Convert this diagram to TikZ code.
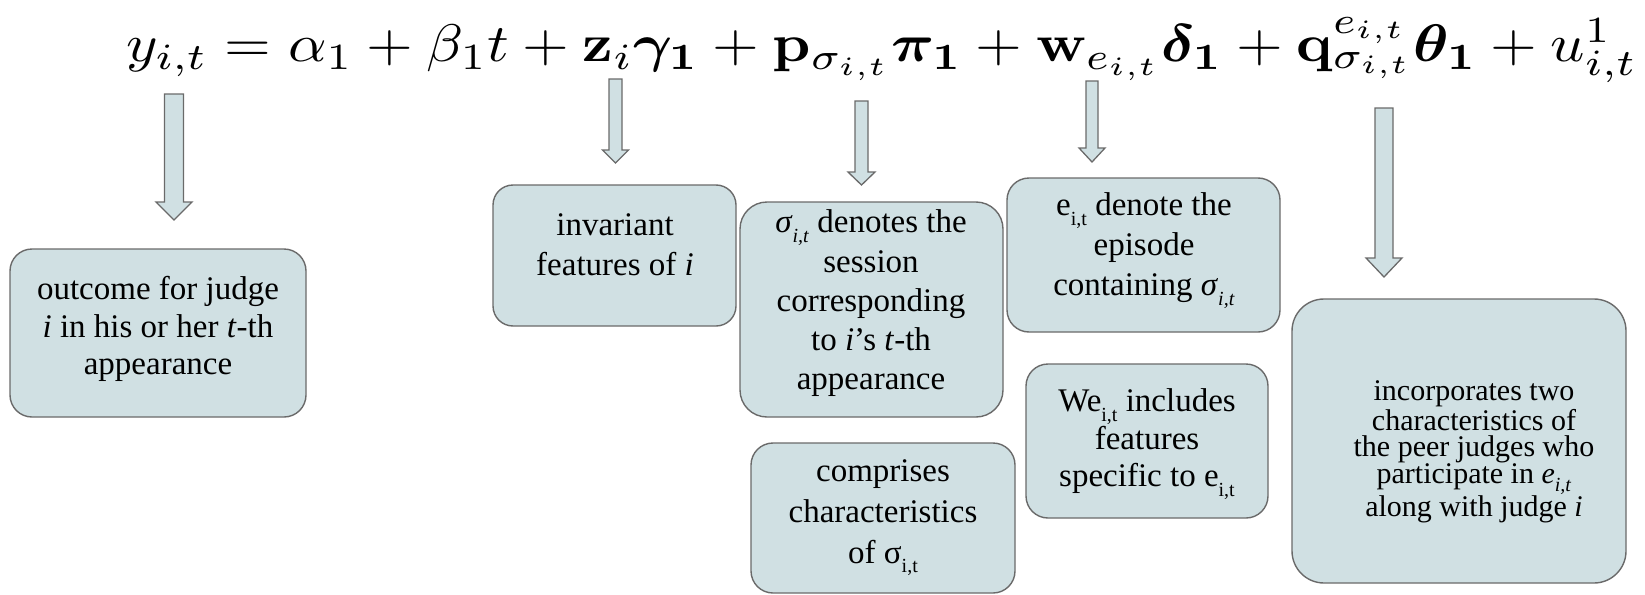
\documentclass[tikz,border=0pt]{standalone}
\usepackage{amsmath}
\usepackage[no-math]{fontspec}
\setmainfont{LiberationSerif}[Extension=.ttf, UprightFont=*-Regular, ItalicFont=*-Italic, BoldFont=*-Bold, BoldItalicFont=*-BoldItalic]
\definecolor{boxfill}{HTML}{D0E0E3}
\definecolor{boxline}{HTML}{6A6A6A}
% lowered subscript for running text
\newcommand\lowsub[1]{\raisebox{-0.28em}{\fontsize{20}{20}\selectfont #1}}
% downward block arrow: centre x, top, head base, tip, half shaft, half head
\newcommand\dnarrow[6]{%
  \draw[blockarrow] ({#1-#5},#2) -- ({#1+#5},#2) -- ({#1+#5},#3) -- ({#1+#6},#3)
    -- (#1,#4) -- ({#1-#6},#3) -- ({#1-#5},#3) -- cycle;}
\tikzset{
  boxstyle/.style={draw=boxline, fill=boxfill, line width=1.4pt, inner sep=0pt},
  blockarrow/.style={draw=boxline, fill=boxfill, line width=1.3pt, line join=miter},
  txt/.style={align=center, inner sep=0pt, text=black},
}
\begin{document}
\begin{tikzpicture}[x=1pt, y=-1pt]
\useasboundingbox (0,0) rectangle (1645,594);

% the model equation
\node[anchor=base west, inner sep=0pt] (eq) at (126,62)
  {\scalebox{1}[0.88]{\resizebox{1511pt}{!}{$y_{i,t} = \alpha_1 + \beta_1 t + \mathbf{z}_i\boldsymbol{\gamma_1}
   + \mathbf{p}_{\sigma_{i,t}}\boldsymbol{\pi_1} + \mathbf{w}_{e_{i,t}}\boldsymbol{\delta_1}
   + \mathbf{q}^{e_{i,t}}_{\sigma_{i,t}}\boldsymbol{\theta_1} + u^1_{i,t}$}}};

% arrows from the terms
\dnarrow{174}{94}{202}{220}{9.5}{18}
\dnarrow{615.5}{79}{150}{163}{6.5}{13}
\dnarrow{861.5}{101}{172}{185}{6.5}{13.5}
\dnarrow{1092}{81}{148}{162}{6}{13}
\dnarrow{1384}{108}{258}{277}{9}{18}

% boxes
\node[boxstyle, minimum width=296pt, minimum height=168pt, rounded corners=22pt] (b1) at (158,333) {};
\node[boxstyle, minimum width=243pt, minimum height=141pt, rounded corners=20pt] (b2) at (614.5,255.5) {};
\node[boxstyle, minimum width=263pt, minimum height=215pt, rounded corners=27pt] (b3) at (871.5,309.5) {};
\node[boxstyle, minimum width=273pt, minimum height=154pt, rounded corners=22pt] (b4) at (1143.5,255) {};
\node[boxstyle, minimum width=242pt, minimum height=154pt, rounded corners=22pt] (b5) at (1147,441) {};
\node[boxstyle, minimum width=264pt, minimum height=150pt, rounded corners=22pt] (b6) at (883,518) {};
\node[boxstyle, minimum width=334pt, minimum height=284pt, rounded corners=32pt] (b7) at (1459,441) {};

% box texts
\node[txt, font=\fontsize{33}{37.5}\selectfont] (t1) at (158,329.5)
  {\strut outcome for judge\\ \textit{i} in his or her \textit{t}-th\\ appearance\strut};
\node[txt, font=\fontsize{33}{40}\selectfont] (t2) at (615,247)
  {\strut invariant\\ features of \textit{i}\strut};
\node[txt, font=\fontsize{33}{39.25}\selectfont] (t3) at (871,303.5)
  {\strut\textit{σ}\lowsub{\textit{i,t}} denotes the\\ session\\ corresponding\\ to \textit{i}'s \textit{t}-th\\ appearance\strut};
\node[txt, font=\fontsize{33}{40}\selectfont] (t4) at (1144,248)
  {\strut e\lowsub{i,t} denote the\\ episode\\ containing \textit{σ}\lowsub{\textit{i,t}}\strut};
\node[txt, font=\fontsize{33}{37.5}\selectfont] (t5) at (1147,442.5)
  {\strut We\lowsub{i,t} includes\\ features\\ specific to e\lowsub{i,t}\strut};
\node[txt, font=\fontsize{33}{41}\selectfont] (t6) at (883,514)
  {\strut comprises\\ characteristics\\ of σ\lowsub{i,t}\strut};
\node[txt, font=\fontsize{30}{26.5}\selectfont] (t7) at (1474,452.5)
  {\strut incorporates two\\ characteristics of\\ the peer judges who\\ participate in \textit{e}\lowsub{\textit{i,t}}\\ along with judge \textit{i}\strut};
\end{tikzpicture}
\end{document}
